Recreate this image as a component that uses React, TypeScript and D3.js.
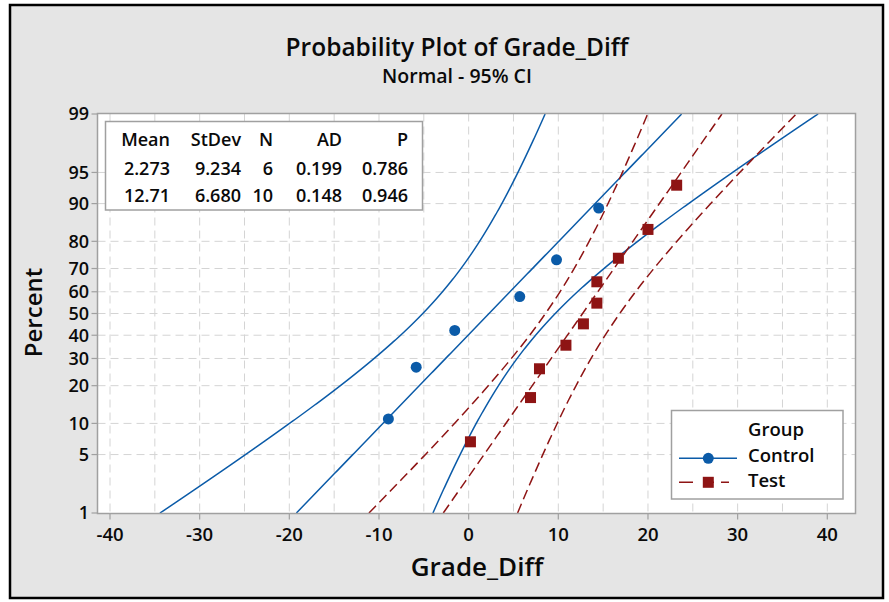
import React from "react";
import * as d3 from "d3";

// ---------- data ----------
const groupNames = ["Control", "Test"];
const controlValues = [-8.95, -5.85, -1.55, 5.7, 9.8, 14.5];
const testValues = [0.2, 6.9, 7.9, 10.85, 12.8, 14.3, 14.3, 16.7, 20.0, 23.2];
const groupMeans = [2.273, 12.71];
const groupStDevs = [9.234, 6.68];
const groupN = [6, 10];
const groupAD = [0.199, 0.148];
const groupP = [0.786, 0.946];
const statHeaders = ["Mean", "StDev", "N", "AD", "P"];
const xTicks = [-40, -30, -20, -10, 0, 10, 20, 30, 40];
const xGrid = [-40, -35, -30, -25, -20, -15, -10, -5, 0, 5, 10, 15, 20, 25, 30, 35, 40];
const yTicks = [1, 5, 10, 20, 30, 40, 50, 60, 70, 80, 90, 95, 99];

// ---------- style ----------
const FONT = "'Open Sans', 'Noto Sans', sans-serif";
const BLUE = "#0b5ba8";
const RED = "#8e1414";
const GRID = "#d4d4d4";
const BORDER = "#a0a0a0";
const TXT = "#0a0a0a";

// inverse normal CDF (Acklam)
function probit(p: number): number {
  const a = [-3.969683028665376e1, 2.209460984245205e2, -2.759285104469687e2, 1.38357751867269e2, -3.066479806614716e1, 2.506628277459239];
  const b = [-5.447609879822406e1, 1.615858368580409e2, -1.556989798598866e2, 6.680131188771972e1, -1.328068155288572e1];
  const c = [-7.784894002430293e-3, -3.223964580411365e-1, -2.400758277161838, -2.549732539343734, 4.374664141464968, 2.938163982698783];
  const d = [7.784695709041462e-3, 3.224671290700398e-1, 2.445134137142996, 3.754408661907416];
  const pl = 0.02425;
  if (p < pl) {
    const q = Math.sqrt(-2 * Math.log(p));
    return (((((c[0] * q + c[1]) * q + c[2]) * q + c[3]) * q + c[4]) * q + c[5]) / ((((d[0] * q + d[1]) * q + d[2]) * q + d[3]) * q + 1);
  }
  if (p > 1 - pl) {
    const q = Math.sqrt(-2 * Math.log(1 - p));
    return -(((((c[0] * q + c[1]) * q + c[2]) * q + c[3]) * q + c[4]) * q + c[5]) / ((((d[0] * q + d[1]) * q + d[2]) * q + d[3]) * q + 1);
  }
  const q = p - 0.5;
  const r = q * q;
  return ((((((a[0] * r + a[1]) * r + a[2]) * r + a[3]) * r + a[4]) * r + a[5]) * q) / (((((b[0] * r + b[1]) * r + b[2]) * r + b[3]) * r + b[4]) * r + 1);
}

export default function App() {
  const W = 889, H = 602;
  const plot = { x0: 97.5, x1: 855.5, y0: 113.5, y1: 513.5 };
  const x = d3.scaleLinear().domain([-40, 40]).range([110, 827.3]);
  const zLo = probit(0.01), zHi = probit(0.99);
  const yz = d3.scaleLinear().domain([zLo, zHi]).range([513, 114]);
  const yp = (pct: number) => yz(probit(pct / 100));

  const groups = [controlValues, testValues];
  const colors = [BLUE, RED];
  const dashes = [undefined, "10,5"];

  const zs = d3.range(0, 201).map((i) => zLo + ((zHi - zLo) * i) / 200);
  const line = d3.line<[number, number]>().x((d) => x(d[0])).y((d) => yz(d[1]));

  const curves: { path: string; color: string; dash?: string }[] = [];
  groups.forEach((_, gi) => {
    const m = groupMeans[gi], s = groupStDevs[gi], n = groupN[gi];
    const center = zs.map((z) => [m + s * z, z] as [number, number]);
    const half = (z: number) => 1.96 * s * Math.sqrt(1 / n + (z * z) / (2 * (n - 1)));
    const lo = zs.map((z) => [m + s * z - half(z), z] as [number, number]);
    const hi = zs.map((z) => [m + s * z + half(z), z] as [number, number]);
    [lo, center, hi].forEach((pts) => curves.push({ path: line(pts) || "", color: colors[gi], dash: dashes[gi] }));
  });

  const statCols = [170, 241, 273, 342, 408];
  const statRows = [146, 175, 202];
  const f4 = d3.format(".4r");
  const f3 = d3.format(".3f");
  const rows = [statHeaders].concat(
    groupNames.map((_, gi) => [f4(groupMeans[gi]), f4(groupStDevs[gi]), String(groupN[gi]), f3(groupAD[gi]), f3(groupP[gi])])
  );

  return (
    <svg width={W} height={H} style={{ position: "absolute", left: 0, top: 0, fontFamily: FONT }}>
      <rect x={0} y={0} width={W} height={H} fill="#ffffff" />
      <rect x={10} y={5} width={873} height={593} fill="#e5e5e5" stroke="#000" strokeWidth={2.5} />
      <text x={457} y={56} textAnchor="middle" fontSize={24.5} fontWeight={600} fill={TXT}>Probability Plot of Grade_Diff</text>
      <text x={457} y={83} textAnchor="middle" fontSize={19.5} fontWeight={600} fill={TXT}>Normal - 95% CI</text>

      <defs>
        <clipPath id="plotclip">
          <rect x={plot.x0} y={plot.y0} width={plot.x1 - plot.x0} height={plot.y1 - plot.y0} />
        </clipPath>
      </defs>
      <rect x={plot.x0} y={plot.y0} width={plot.x1 - plot.x0} height={plot.y1 - plot.y0} fill="#fff" />
      {xGrid.map((v) => (
        <line key={"gx" + v} x1={x(v)} x2={x(v)} y1={plot.y0} y2={plot.y1} stroke={GRID} strokeWidth={1} strokeDasharray="8,5" />
      ))}
      {yTicks.filter((p) => p !== 1 && p !== 99).map((p) => (
        <line key={"gy" + p} x1={plot.x0} x2={plot.x1} y1={yp(p)} y2={yp(p)} stroke={GRID} strokeWidth={1} strokeDasharray="8,5" />
      ))}

      <g clipPath="url(#plotclip)">
        {curves.map((c, i) => (
          <path key={"c" + i} d={c.path} fill="none" stroke={c.color} strokeWidth={1.5} strokeDasharray={c.dash} />
        ))}
      </g>

      {groups.map((vals, gi) => {
        const sorted = vals.slice().sort((a, b) => a - b);
        const n = sorted.length;
        return sorted.map((v, i) => {
          const pct = ((i + 1 - 0.3) / (n + 0.4)) * 100;
          return gi === 0 ? (
            <circle key={"p" + gi + "_" + i} cx={x(v)} cy={yp(pct)} r={5.5} fill={BLUE} />
          ) : (
            <rect key={"p" + gi + "_" + i} x={x(v) - 5.5} y={yp(pct) - 5.5} width={11} height={11} fill={RED} />
          );
        });
      })}

      <rect x={plot.x0} y={plot.y0} width={plot.x1 - plot.x0} height={plot.y1 - plot.y0} fill="none" stroke={BORDER} strokeWidth={1.5} />

      {xTicks.map((v) => (
        <g key={"xt" + v}>
          <line x1={x(v)} x2={x(v)} y1={plot.y1} y2={plot.y1 + 6} stroke={BORDER} strokeWidth={1.2} />
          <text x={x(v)} y={540.5} textAnchor="middle" fontSize={18.5} fontWeight={600} fill={TXT}>{v}</text>
        </g>
      ))}
      {yTicks.map((p) => (
        <g key={"yt" + p}>
          <line x1={plot.x0 - 6} x2={plot.x0} y1={yp(p)} y2={yp(p)} stroke={BORDER} strokeWidth={1.2} />
          <text x={89} y={yp(p)} dy="0.36em" textAnchor="end" fontSize={18} fontWeight={600} fill={TXT}>{p}</text>
        </g>
      ))}

      <text x={477} y={576} textAnchor="middle" fontSize={26} fontWeight={600} fill={TXT}>Grade_Diff</text>
      <text transform="translate(42,312.5) rotate(-90)" textAnchor="middle" fontSize={24} fontWeight={600} fill={TXT}>Percent</text>

      <rect x={105.5} y={121.5} width={317} height={88.5} fill="#fff" stroke={BORDER} strokeWidth={1.5} />
      {rows.map((r, ri) =>
        r.map((t, ci) => (
          <text key={"s" + ri + "_" + ci} x={statCols[ci]} y={statRows[ri]} textAnchor="end" fontSize={18} fontWeight={600} fill={TXT}>{t}</text>
        ))
      )}

      <rect x={671.5} y={410.5} width={171.5} height={88.5} fill="#fff" stroke={BORDER} strokeWidth={1.5} />
      <text x={748} y={436} fontSize={18.5} fontWeight={600} fill={TXT}>Group</text>
      <line x1={679} x2={737} y1={458.3} y2={458.3} stroke={BLUE} strokeWidth={1.5} />
      <circle cx={708.3} cy={458.3} r={5.5} fill={BLUE} />
      <text x={748} y={462} fontSize={18.5} fontWeight={600} fill={TXT}>{groupNames[0]}</text>
      <line x1={679} x2={737} y1={482.3} y2={482.3} stroke={RED} strokeWidth={1.5} strokeDasharray="14,15,6,7,8" />
      <rect x={702.8} y={476.8} width={11} height={11} fill={RED} />
      <text x={748} y={487} fontSize={18.5} fontWeight={600} fill={TXT}>{groupNames[1]}</text>
    </svg>
  );
}
